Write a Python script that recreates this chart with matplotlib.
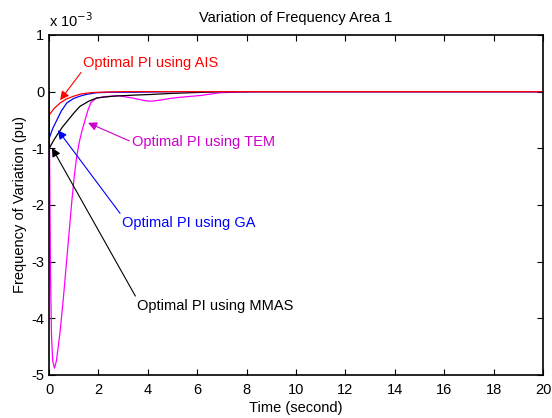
"""Frequency deviation of area 1 for four tuned PI controllers."""
import matplotlib
matplotlib.use('Agg')
import matplotlib.pyplot as plt

plt.rcParams['font.family'] = ['Liberation Sans', 'DejaVu Sans']
plt.rcParams['axes.unicode_minus'] = False

# values in units of 1e-3 pu
t_ais = [0, 0.01, 0.2, 0.45, 0.7, 1.0, 1.3, 1.65, 2.0, 3.0, 20]
f_ais = [0, -0.41, -0.3, -0.2, -0.13, -0.08, -0.04, -0.02, -0.01, 0, 0]

t_ga = [0, 0.01, 0.15, 0.32, 0.5, 0.72, 1.0, 1.25, 1.5, 1.9, 2.5, 3.5, 5.0, 20]
f_ga = [0, -0.82, -0.65, -0.5, -0.34, -0.2, -0.12, -0.08, -0.05, -0.02, -0.01, -0.01, 0, 0]

t_mmas = [0, 0.01, 0.2, 0.38, 0.55, 0.72, 1.0, 1.25, 1.6, 1.94, 2.6, 3.5, 4.1, 5.0, 6.0, 7.0, 20]
f_mmas = [0, -1.0, -0.85, -0.73, -0.62, -0.53, -0.38, -0.26, -0.17, -0.11, -0.08, -0.06,
          -0.05, -0.03, -0.015, 0, 0]

t_tem = [0, 0.03, 0.06, 0.1, 0.15, 0.22, 0.3, 0.44, 0.58, 0.71, 0.82, 0.92, 1.02, 1.12,
         1.22, 1.34, 1.46, 1.58, 1.7, 1.9, 2.2, 2.8, 3.35, 3.9, 4.1, 4.5, 4.9, 5.3, 5.8,
         6.1, 6.9, 7.5, 8.4, 20]
f_tem = [0, -1.5, -3.2, -4.3, -4.75, -4.88, -4.75, -4.27, -3.65, -3.0, -2.45, -1.95, -1.5,
         -1.15, -0.9, -0.68, -0.5, -0.32, -0.19, -0.12, -0.09, -0.07, -0.11, -0.16, -0.17,
         -0.15, -0.12, -0.1, -0.08, -0.07, -0.02, -0.01, 0, 0]

fs = 10.5

fig = plt.figure(figsize=(5.52, 4.18), dpi=100)
ax = fig.add_axes([0.0888, 0.1029, 0.8949, 0.8134])

ax.plot(t_tem, f_tem, color='#ff00ff', lw=0.9)
ax.plot(t_mmas, f_mmas, color='black', lw=0.9)
ax.plot(t_ga, f_ga, color='blue', lw=0.9)
ax.plot(t_ais, f_ais, color='red', lw=0.9)

ax.set_xlim(0, 20)
ax.set_ylim(-5, 1)
ax.set_xticks(range(0, 21, 2))
ax.set_yticks(range(-5, 2))
ax.tick_params(direction='in', top=True, right=True, labelsize=fs, length=4, width=0.8)
ax.tick_params(axis='x', pad=6)
for sp in ax.spines.values():
    sp.set_linewidth(1.2)

ax.set_title('Variation of Frequency Area 1', fontsize=fs, pad=9)
ax.set_xlabel('Time (second)', fontsize=fs, labelpad=3)
ax.set_ylabel('Frequency of Variation (pu)', fontsize=fs, labelpad=3)
ax.text(0, 1.015, r'x 10$^{-3}$', transform=ax.transAxes, fontsize=fs, ha='left', va='bottom')

ax.annotate('Optimal PI using AIS', xy=(0.45, -0.15), xytext=(1.38, 0.51),
            color='red', fontsize=fs, va='center', ha='left',
            arrowprops=dict(arrowstyle='-|>', color='red', lw=0.8, mutation_scale=13,
                            relpos=(0, 0), shrinkA=0, shrinkB=0))
ax.annotate('Optimal PI using TEM', xy=(1.58, -0.55), xytext=(3.36, -0.89),
            color='#cc00cc', fontsize=fs, va='center', ha='left',
            arrowprops=dict(arrowstyle='-|>', color='#cc00cc', lw=0.8, mutation_scale=13,
                            relpos=(0, 0.5), shrinkA=0, shrinkB=0))
ax.annotate('Optimal PI using GA', xy=(0.36, -0.68), xytext=(2.96, -2.32),
            color='blue', fontsize=fs, va='center', ha='left',
            arrowprops=dict(arrowstyle='-|>', color='blue', lw=0.8, mutation_scale=13,
                            relpos=(0, 1), shrinkA=0, shrinkB=0))
ax.annotate('Optimal PI using MMAS', xy=(0.12, -0.99), xytext=(3.56, -3.78),
            color='black', fontsize=fs, va='center', ha='left',
            arrowprops=dict(arrowstyle='-|>', color='black', lw=0.8, mutation_scale=13,
                            relpos=(0, 1), shrinkA=0, shrinkB=0))

fig.savefig('out.png', dpi=100)
